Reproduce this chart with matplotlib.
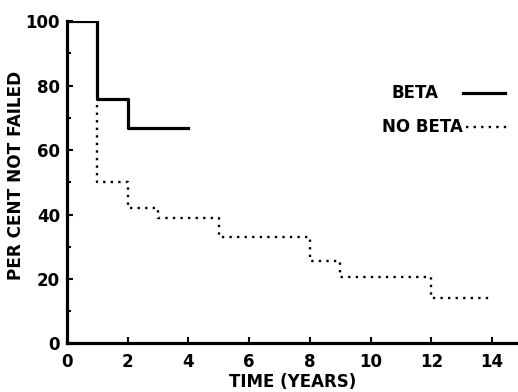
import numpy as np
import matplotlib.pyplot as plt

plt.rcParams['font.family'] = ['DejaVu Sans']
plt.rcParams['font.weight'] = 'bold'

# Kaplan-Meier style step data (time in years, per cent not failed)
beta_t = [0, 1, 2, 4]
beta_p = [100, 76, 67, 67]

nobeta_t = [1, 1, 2, 3, 5, 8, 9, 12, 14]
nobeta_p = [74, 50, 42, 39, 33, 25.5, 20.6, 14, 14]

xticks = [0, 2, 4, 6, 8, 10, 12, 14]
yticks = [0, 20, 40, 60, 80, 100]

fig = plt.figure(figsize=(5.18, 3.92), dpi=100)
ax = fig.add_axes([0.129, 0.124, 0.871, 0.822])

ax.step(beta_t, beta_p, where='post', color='black', lw=2.3)
ax.step(nobeta_t, nobeta_p, where='post', color='black', lw=1.7,
        linestyle=(0, (1, 2.2)))

ax.set_xlim(0, 14.85)
ax.set_ylim(0, 100)
ax.set_xticks(xticks)
ax.set_yticks(yticks)
ax.set_yticks([10, 30, 50, 70, 90], minor=True)
ax.tick_params(direction='in', length=4, width=1.5, labelsize=12, pad=7)
ax.tick_params(which='minor', direction='in', length=3, width=1.5)
ax.tick_params(axis='y', pad=5)
for lab in ax.get_xticklabels() + ax.get_yticklabels():
    lab.set_fontweight('bold')

ax.spines['top'].set_visible(False)
ax.spines['right'].set_visible(False)
ax.spines['left'].set_linewidth(2.3)
ax.spines['bottom'].set_linewidth(2.3)

ax.set_xlabel('TIME (YEARS)', fontsize=12, fontweight='bold', labelpad=1.5)
ax.set_ylabel('PER CENT NOT FAILED', fontsize=12.2, fontweight='bold')
ax.yaxis.set_label_coords(-0.093, 0.52)

# legend drawn as text + line samples
ax.text(0.72, 0.776, 'BETA', transform=ax.transAxes, fontsize=12,
        fontweight='bold', va='center', ha='left')
ax.plot([0.878, 0.971], [0.778, 0.778], transform=ax.transAxes, color='black', lw=2.3)
ax.text(0.698, 0.671, 'NO BETA', transform=ax.transAxes, fontsize=12,
        fontweight='bold', va='center', ha='left')
ax.plot([0.884, 0.976], [0.673, 0.673], transform=ax.transAxes, color='black', lw=1.7,
        linestyle=(0, (1, 2.2)), clip_on=False)

fig.savefig('out.png', dpi=100)
